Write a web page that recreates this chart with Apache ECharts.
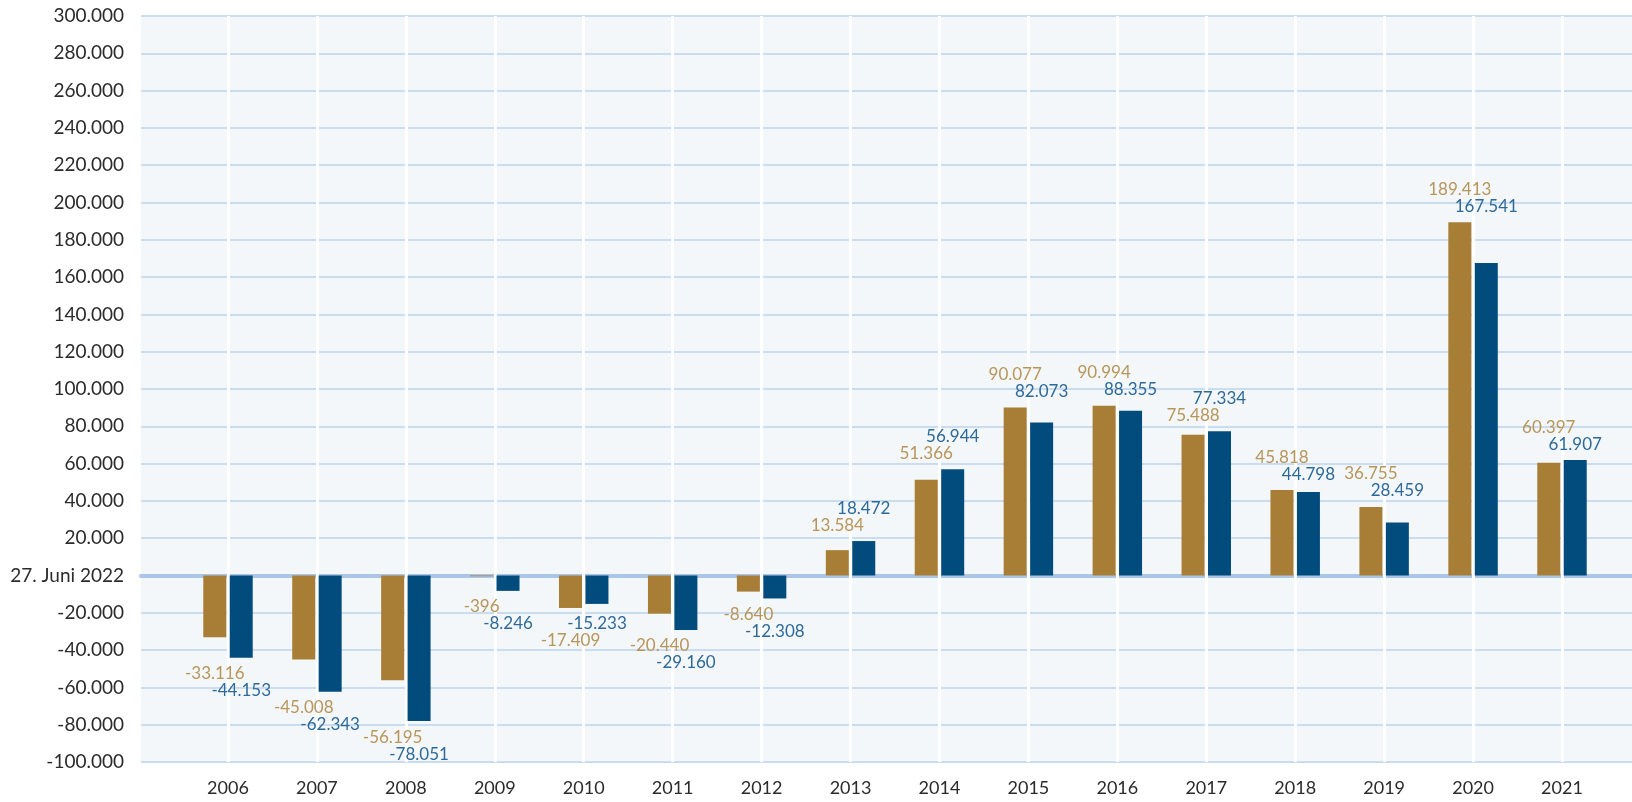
<!DOCTYPE html>
<html>
<head>
<meta charset="utf-8">
<title>Jahreswerte 2006-2021</title>
<script src="https://cdn.jsdelivr.net/npm/echarts@6/dist/echarts.min.js"></script>
<style>
  html, body { margin: 0; padding: 0; background: #fff; }
  #chart { width: 1632px; height: 802px; }
</style>
</head>
<body>
<div id="chart"></div>
<script>
  // Daten
  const years = ['2006', '2007', '2008', '2009', '2010', '2011', '2012', '2013',
    '2014', '2015', '2016', '2017', '2018', '2019', '2020', '2021']
  const goldValues = [-33116, -45008, -56195, -396, -17409, -20440, -8640, 13584,
    51366, 90077, 90994, 75488, 45818, 36755, 189413, 60397]
  const blueValues = [-44153, -62343, -78051, -8246, -15233, -29160, -12308, 18472,
    56944, 82073, 88355, 77334, 44798, 28459, 167541, 61907]
  const yMin = -100000
  const yMax = 300000
  const yStep = 20000
  const zeroLabel = '27. Juni 2022'

  const GOLD = '#a87d36'
  const BLUE = '#024b7d'
  const GOLD_TEXT = '#b8955a'
  const BLUE_TEXT = '#2d6a9b'
  const FONT = 'Lato'

  // 1.234.567 / -8.246
  function fmt(v) {
    const s = String(Math.abs(Math.round(v))).replace(/\B(?=(\d{3})+(?!\d))/g, '.')
    return (v < 0 ? '-' : '') + s
  }

  const gridTop = 16
  const gridBottom = 40

  let chart = echarts.init(document.getElementById('chart'))

  const valueLabel = (color) => ({
    show: true,
    position: 'inside',
    color: color,
    fontFamily: FONT,
    fontSize: 17,
    textBorderWidth: 0,
    formatter: (p) => fmt(p.value)
  })

  chart.setOption({
    animation: false,
    grid: [
      // Hintergrund + horizontale Linien
      { left: 141, right: 0, top: gridTop, bottom: gridBottom, show: true,
        backgroundColor: '#f3f7f9', borderWidth: 0 },
      // Balken
      { left: 228, right: 70, top: gridTop, bottom: gridBottom }
    ],
    xAxis: [
      {
        gridIndex: 0, type: 'value', min: 0, max: 1, z: 0,
        axisLine: { show: true, onZero: true, lineStyle: { color: '#a9c6e7', width: 4 } },
        axisTick: { show: false }, axisLabel: { show: false }, splitLine: { show: false }
      },
      {
        gridIndex: 1, type: 'category', data: years, boundaryGap: false, z: 1,
        axisLine: { show: false }, axisTick: { show: false },
        axisLabel: { color: '#2b2b2b', fontFamily: FONT, fontSize: 18, margin: 17 },
        splitLine: { show: true, lineStyle: { color: '#ffffff', width: 3 } }
      }
    ],
    yAxis: [
      {
        gridIndex: 0, type: 'value', min: yMin, max: yMax, interval: yStep, z: 0,
        axisLine: { show: false }, axisTick: { show: false },
        axisLabel: {
          color: '#2b2b2b', fontFamily: FONT, fontSize: 19, margin: 17,
          formatter: (v) => v === 0 ? zeroLabel : fmt(v)
        },
        splitLine: { lineStyle: { color: '#c9dcf0', width: 2 } }
      },
      {
        gridIndex: 1, type: 'value', min: yMin, max: yMax, interval: yStep,
        axisLine: { show: false }, axisTick: { show: false },
        axisLabel: { show: false }, splitLine: { show: false }
      }
    ],
    series: [
      {
        name: 'Gold', type: 'bar', xAxisIndex: 1, yAxisIndex: 1,
        data: goldValues, barWidth: 23, barGap: '15%', clip: false,
        itemStyle: { color: GOLD },
        label: valueLabel(GOLD_TEXT)
      },
      {
        name: 'Blau', type: 'bar', xAxisIndex: 1, yAxisIndex: 1,
        data: blueValues, barWidth: 23, barGap: '15%', clip: false,
        itemStyle: { color: BLUE },
        label: valueLabel(BLUE_TEXT)
      }
    ]
  })

  // Beschriftungen paarweise über (bzw. unter) dem längeren Balken stapeln
  const yPx = (v) => chart.convertToPixel({ yAxisIndex: 1 }, v)
  const y0 = yPx(0)
  const goldData = []
  const blueData = []
  years.forEach((year, i) => {
    const g = goldValues[i]
    const b = blueValues[i]
    const pos = g + b >= 0
    const extreme = pos ? Math.max(g, b) : Math.min(g, b)
    const dir = pos ? -1 : 1
    const yE = yPx(extreme)
    // äußere Beschriftung = größerer Betrag, bei fast gleichen Werten Gold
    const goldOuter = Math.abs(g - b) < 1700 ? true : Math.abs(g) > Math.abs(b)
    const inner = yE + dir * 16
    const outer = yE + dir * 33
    const gTarget = goldOuter ? outer : inner
    const bTarget = goldOuter ? inner : outer
    goldData.push({ value: g, label: { offset: [0, gTarget - (y0 + yPx(g)) / 2] } })
    blueData.push({ value: b, label: { offset: [0, bTarget - (y0 + yPx(b)) / 2] } })
  })
  chart.setOption({ series: [{ data: goldData }, { data: blueData }] })
</script>
</body>
</html>
